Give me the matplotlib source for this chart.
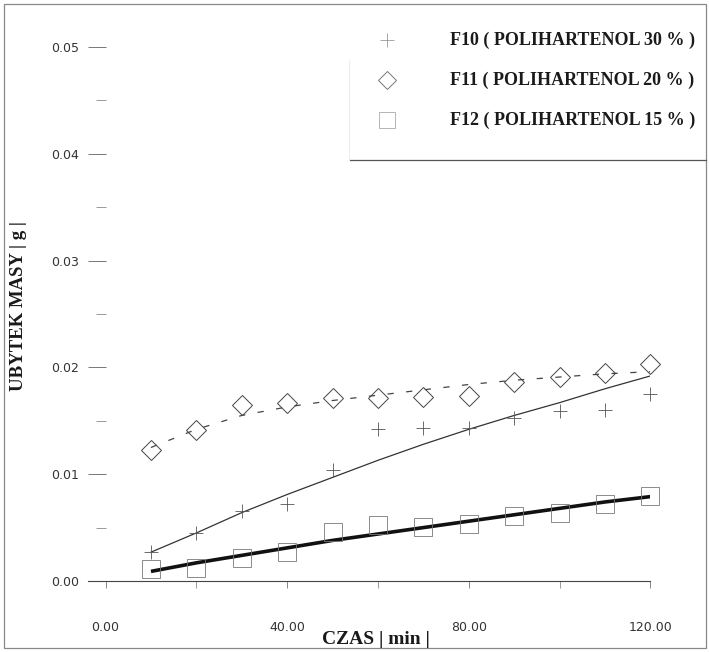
import matplotlib
matplotlib.use("Agg")
import matplotlib.pyplot as plt
from matplotlib.lines import Line2D
from matplotlib.patches import Rectangle
from matplotlib.ticker import MultipleLocator, FixedLocator, FuncFormatter

# ---- data ----
czas = [10, 20, 30, 40, 50, 60, 70, 80, 90, 100, 110, 120]
f10 = [0.0027, 0.0045, 0.0066, 0.0072, 0.0104, 0.0142, 0.0143, 0.0143, 0.0153, 0.0159, 0.0160, 0.0175]
f11 = [0.0123, 0.0141, 0.0165, 0.0167, 0.0171, 0.0171, 0.0172, 0.0173, 0.0186, 0.0191, 0.0195, 0.0203]
f12 = [0.0011, 0.0012, 0.0022, 0.0027, 0.0046, 0.0052, 0.0051, 0.0053, 0.0061, 0.0064, 0.0072, 0.0080]
f10_fit = [0.0027, 0.0045, 0.0064, 0.0081, 0.0097, 0.0113, 0.0128, 0.0142, 0.0155, 0.0167, 0.0180, 0.0192]
f11_fit = [0.0125, 0.0142, 0.0155, 0.0163, 0.0169, 0.0174, 0.0179, 0.0184, 0.0188, 0.0191, 0.0194, 0.0196]
f12_fit = [0.0009, 0.0017, 0.0024, 0.0031, 0.0038, 0.0044, 0.0050, 0.0056, 0.0062, 0.0068, 0.0074, 0.0079]
labels = ["F10 ( POLIHARTENOL 30 % )", "F11 ( POLIHARTENOL 20 % )", "F12 ( POLIHARTENOL 15 % )"]
x_ticks = [0, 40, 80, 120]
y_ticks = [0.00, 0.01, 0.02, 0.03, 0.04, 0.05]

W, H = 709, 652
fig = plt.figure(figsize=(W / 100, H / 100), dpi=100)
fig.patch.set_facecolor("white")

def fx(px):
    return px / W

def fy(py):
    return 1 - py / H

ax = fig.add_axes([fx(88.3), fy(581), fx(650.3) - fx(88.3), fy(15) - fy(581)])
ax.set_xlim(-3.8, 120)
ax.set_ylim(0, 0.053)
ax.patch.set_alpha(0)

# data
ax.plot(czas, f10_fit, color="#333333", lw=0.9, zorder=2)
ax.plot(czas, f12_fit, color="#111111", lw=2.6, solid_capstyle="butt", zorder=2)
ax.plot(czas, f11_fit, color="#444444", lw=0.9, dashes=(5.0, 10.0), zorder=2)
ax.plot(czas, f10, ls="none", marker="+", ms=10, mew=0.6, color="#555555", clip_on=False, zorder=3)
ax.plot(czas, f11, ls="none", marker="D", ms=10, mew=0.7, mfc="none", mec="#444444", clip_on=False, zorder=3)
ax.plot(czas, f12, ls="none", marker="s", ms=12.5, mew=0.6, mfc="none", mec="#777777", clip_on=False, zorder=3)

# spines
for s in ["top", "right"]:
    ax.spines[s].set_visible(False)
ax.spines["left"].set_position(("data", 0))
ax.spines["left"].set_visible(False)
ax.spines["bottom"].set_color("#444444")
ax.spines["bottom"].set_linewidth(0.8)

ax.yaxis.set_major_locator(FixedLocator(y_ticks))
ax.yaxis.set_minor_locator(MultipleLocator(0.005))
ax.yaxis.set_major_formatter(FuncFormatter(lambda v, p: f"{v:.2f}"))
ax.tick_params(axis="y", which="major", direction="out", length=13, width=0.7,
               color="#777777", pad=6, labelsize=9, labelcolor="#333333")
ax.tick_params(axis="y", which="minor", direction="out", length=7, width=0.7, color="#999999")

ax.xaxis.set_major_locator(FixedLocator(x_ticks))
ax.xaxis.set_minor_locator(MultipleLocator(20))
ax.xaxis.set_major_formatter(FuncFormatter(lambda v, p: f"{v:.2f}"))
ax.tick_params(axis="x", which="major", direction="out", length=5, width=0.7,
               color="#888888", pad=24, labelsize=9, labelcolor="#333333")
ax.tick_params(axis="x", which="minor", direction="out", length=5, width=0.7, color="#999999")
for lab in ax.get_xticklabels() + ax.get_yticklabels():
    lab.set_fontfamily("DejaVu Sans")

# axis titles
fig.text(fx(376), fy(639), "CZAS | min |", ha="center", va="center",
         family="Liberation Serif", weight="bold", size=14, color="#1a1a1a")
fig.text(fx(19), fy(306), "UBYTEK MASY | g |", ha="center", va="center", rotation=90,
         family="Liberation Serif", weight="bold", size=13.5, color="#1a1a1a")

# legend (drawn by hand to match placement)
leg_y = [40, 80, 120]
fig.add_artist(Line2D([fx(387)], [fy(leg_y[0])], marker="+", ms=10, mew=0.6, color="#999999",
                      transform=fig.transFigure))
fig.add_artist(Line2D([fx(387)], [fy(leg_y[1])], marker="D", ms=9.5, mew=0.7, mfc="none",
                      mec="#777777", transform=fig.transFigure))
fig.add_artist(Line2D([fx(387)], [fy(leg_y[2])], marker="s", ms=11, mew=0.6, mfc="none",
                      mec="#aaaaaa", transform=fig.transFigure))
for yy, lab in zip(leg_y, labels):
    fig.text(fx(450), fy(yy), lab, ha="left", va="center", family="Liberation Serif",
             weight="bold", size=13, color="#1a1a1a")
fig.add_artist(Line2D([fx(350), fx(706)], [fy(160), fy(160)], color="#555555", lw=0.9,
                      transform=fig.transFigure))
fig.add_artist(Line2D([fx(349), fx(349)], [fy(60), fy(160)], color="#eeeeee", lw=0.8,
                      transform=fig.transFigure))

# page border
fig.add_artist(Rectangle((fx(4), fy(648)), fx(702), (648 - 4) / H,
                         fill=False, ec="#888888", lw=0.9, transform=fig.transFigure))

fig.savefig("out.png", dpi=100)
